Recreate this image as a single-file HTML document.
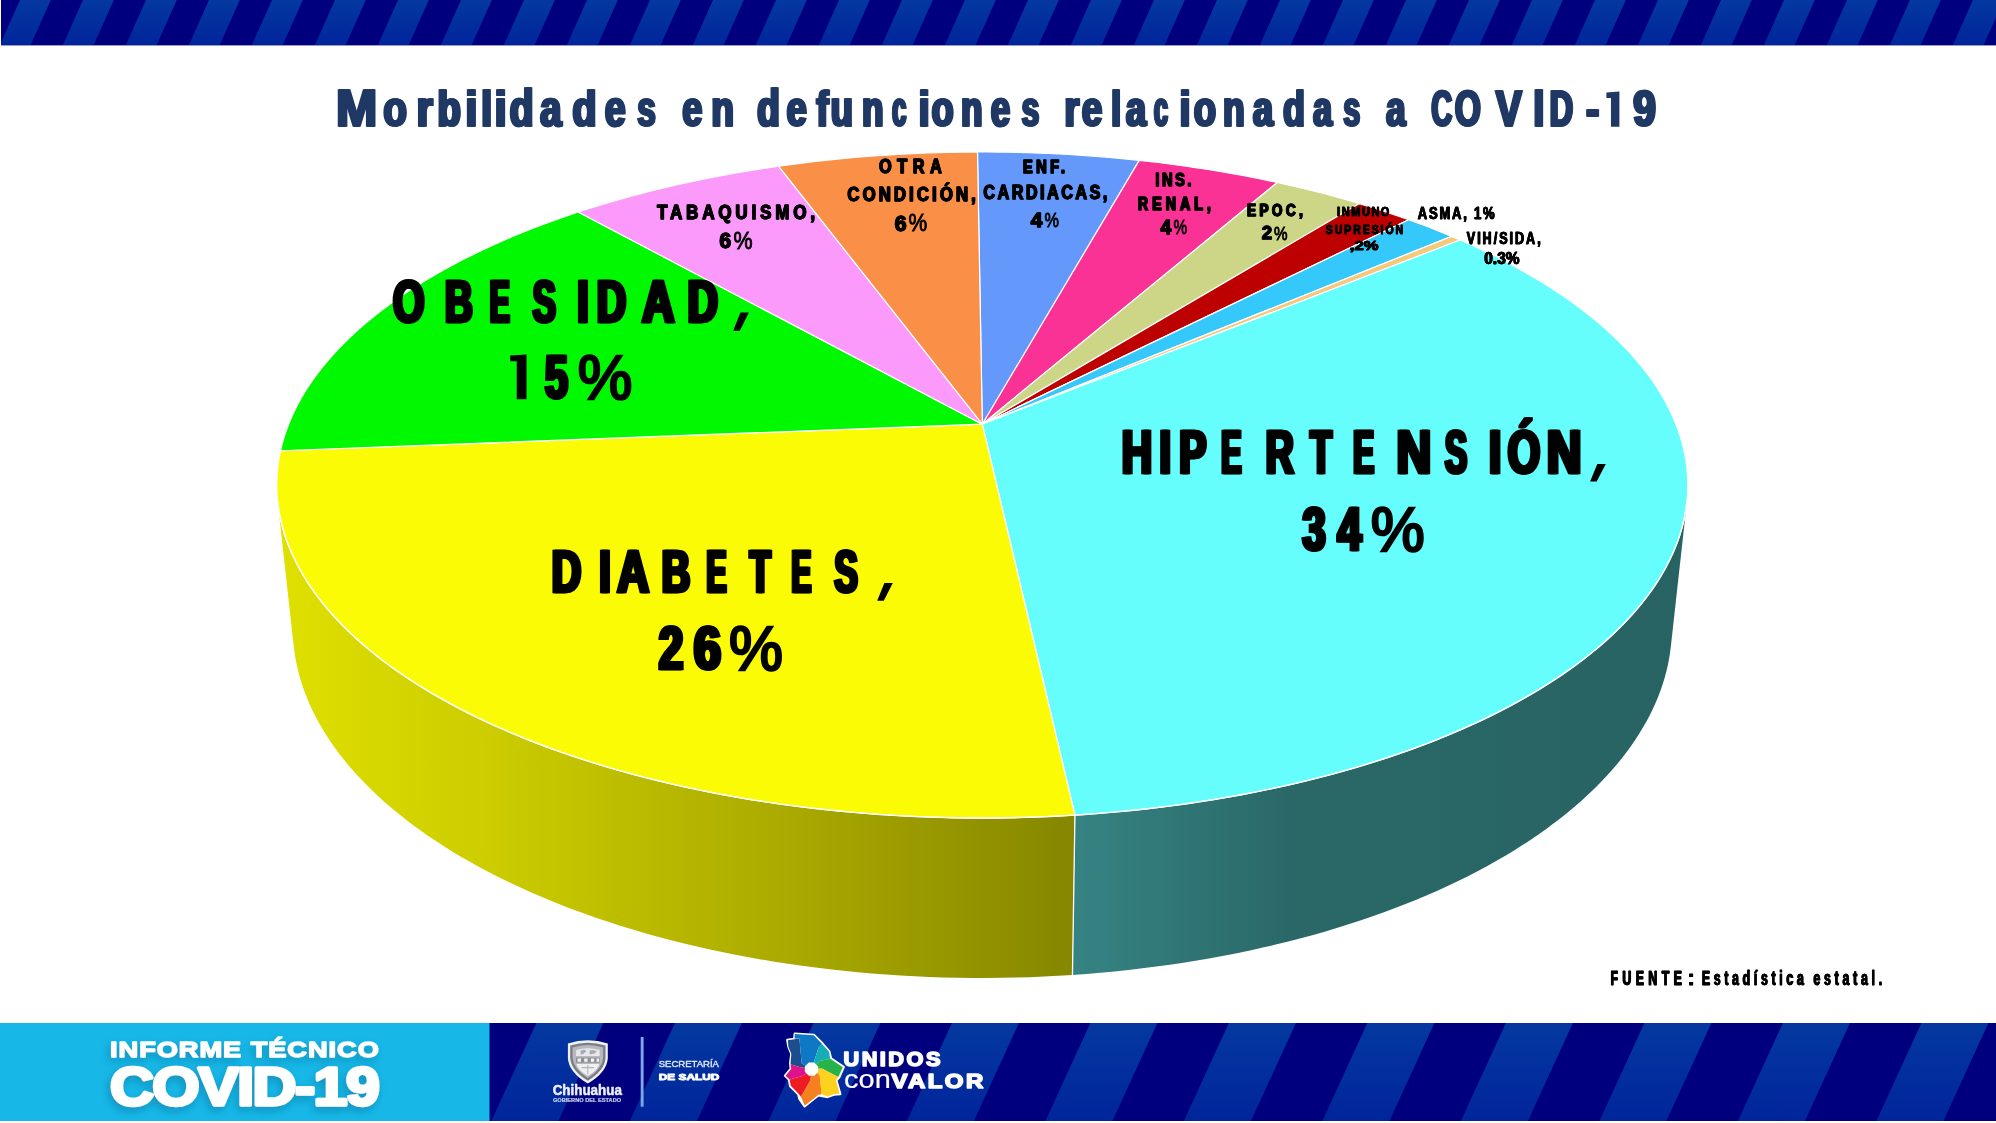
<!DOCTYPE html>
<html><head><meta charset="utf-8"><title>Morbilidades en defunciones relacionadas a COVID-19</title>
<style>
html,body{margin:0;padding:0;background:#fff;}
body{width:1996px;height:1123px;overflow:hidden;}
svg{display:block;font-family:"Liberation Sans",sans-serif;}
</style></head><body>
<svg width="1996" height="1123" viewBox="0 0 1996 1123">
<defs><filter id="sh" x="-10%" y="-20%" width="120%" height="150%"><feDropShadow dx="-2" dy="4" stdDeviation="4" flood-color="#0a6f9a" flood-opacity="0.55"/></filter></defs>
<rect width="1996" height="1123" fill="#fff"/>
<!-- bands -->
<rect x="1" y="0" width="1995" height="45.4" fill="#00007f"/>
<clipPath id="ct"><rect x="1" y="0" width="1995" height="45.4"/></clipPath>
<path clip-path="url(#ct)" d="M-43 0 L-12.2 0 L-32.3 45 L-63.1 45Z M20 0 L50.8 0 L30.7 45 L-0.1 45Z M83 0 L113.8 0 L93.7 45 L62.9 45Z M146 0 L176.8 0 L156.7 45 L125.9 45Z M209 0 L239.8 0 L219.7 45 L188.9 45Z M272 0 L302.8 0 L282.7 45 L251.9 45Z M335 0 L365.8 0 L345.7 45 L314.9 45Z M398 0 L428.8 0 L408.7 45 L377.9 45Z M461 0 L491.8 0 L471.7 45 L440.9 45Z M524 0 L554.8 0 L534.7 45 L503.9 45Z M587 0 L617.8 0 L597.7 45 L566.9 45Z M650 0 L680.8 0 L660.7 45 L629.9 45Z M713 0 L743.8 0 L723.7 45 L692.9 45Z M776 0 L806.8 0 L786.7 45 L755.9 45Z M839 0 L869.8 0 L849.7 45 L818.9 45Z M902 0 L932.8 0 L912.7 45 L881.9 45Z M965 0 L995.8 0 L975.7 45 L944.9 45Z M1028 0 L1058.8 0 L1038.7 45 L1007.9 45Z M1091 0 L1121.8 0 L1101.7 45 L1070.9 45Z M1154 0 L1184.8 0 L1164.7 45 L1133.9 45Z M1217 0 L1247.8 0 L1227.7 45 L1196.9 45Z M1280 0 L1310.8 0 L1290.7 45 L1259.9 45Z M1343 0 L1373.8 0 L1353.7 45 L1322.9 45Z M1406 0 L1436.8 0 L1416.7 45 L1385.9 45Z M1469 0 L1499.8 0 L1479.7 45 L1448.9 45Z M1532 0 L1562.8 0 L1542.7 45 L1511.9 45Z M1595 0 L1625.8 0 L1605.7 45 L1574.9 45Z M1658 0 L1688.8 0 L1668.7 45 L1637.9 45Z M1721 0 L1751.8 0 L1731.7 45 L1700.9 45Z M1784 0 L1814.8 0 L1794.7 45 L1763.9 45Z M1847 0 L1877.8 0 L1857.7 45 L1826.9 45Z M1910 0 L1940.8 0 L1920.7 45 L1889.9 45Z M1973 0 L2003.8 0 L1983.7 45 L1952.9 45Z" fill="url(#gb)"/>
<rect x="0" y="1023" width="1996" height="98" fill="#00007f"/>
<clipPath id="cf"><rect x="489.5" y="1023" width="1506.5" height="98"/></clipPath>
<path clip-path="url(#cf)" d="M397.9 1023 L464.9 1023 L419.9 1121 L352.9 1121Z M536.4 1023 L603.4 1023 L558.4 1121 L491.4 1121Z M674.9 1023 L741.9 1023 L696.9 1121 L629.9 1121Z M813.4 1023 L880.4 1023 L835.4 1121 L768.4 1121Z M951.9 1023 L1018.9 1023 L973.9 1121 L906.9 1121Z M1090.4 1023 L1157.4 1023 L1112.4 1121 L1045.4 1121Z M1228.9 1023 L1295.9 1023 L1250.9 1121 L1183.9 1121Z M1367.4 1023 L1434.4 1023 L1389.4 1121 L1322.4 1121Z M1505.9 1023 L1572.9 1023 L1527.9 1121 L1460.9 1121Z M1644.4 1023 L1711.4 1023 L1666.4 1121 L1599.4 1121Z M1782.9 1023 L1849.9 1023 L1804.9 1121 L1737.9 1121Z M1921.4 1023 L1988.4 1023 L1943.4 1121 L1876.4 1121Z" fill="url(#gb)"/>
<rect x="0" y="1023" width="489.5" height="98" fill="#17b8e8"/>
<!-- pie -->
<defs><linearGradient id="gy" gradientUnits="userSpaceOnUse" x1="285" y1="0" x2="1075" y2="0"><stop offset="0" stop-color="#dfdf00"/><stop offset="0.25" stop-color="#cdcd00"/><stop offset="0.6" stop-color="#adad00"/><stop offset="1" stop-color="#868600"/></linearGradient><linearGradient id="gc" gradientUnits="userSpaceOnUse" x1="1075" y1="0" x2="1690" y2="0"><stop offset="0" stop-color="#368383"/><stop offset="0.35" stop-color="#2a6868"/><stop offset="1" stop-color="#286363"/></linearGradient><linearGradient id="gb" x1="0" y1="0" x2="0" y2="1"><stop offset="0" stop-color="#0438a0"/><stop offset="1" stop-color="#00259b"/></linearGradient></defs>
<path d="M1686.83 502.43 L1686.07 508.33 L1685.07 514.25 L1683.85 520.17 L1682.4 526.11 L1680.72 532.05 L1678.81 537.99 L1676.66 543.93 L1674.28 549.88 L1671.66 555.82 L1668.8 561.75 L1665.71 567.68 L1662.37 573.6 L1658.79 579.51 L1654.97 585.4 L1650.9 591.28 L1646.6 597.14 L1642.04 602.97 L1637.25 608.78 L1632.2 614.57 L1626.91 620.33 L1621.38 626.05 L1615.6 631.75 L1609.58 637.4 L1603.31 643.02 L1596.79 648.59 L1590.04 654.12 L1583.04 659.61 L1575.79 665.04 L1568.31 670.42 L1560.59 675.75 L1552.63 681.01 L1544.43 686.22 L1536 691.36 L1527.33 696.44 L1518.43 701.45 L1509.3 706.39 L1499.95 711.25 L1490.37 716.04 L1480.57 720.74 L1470.55 725.37 L1460.32 729.91 L1449.88 734.36 L1439.22 738.72 L1428.36 742.99 L1417.3 747.17 L1406.04 751.24 L1394.59 755.22 L1382.94 759.09 L1371.12 762.86 L1359.11 766.52 L1346.93 770.07 L1334.57 773.51 L1322.05 776.84 L1309.37 780.05 L1296.54 783.14 L1283.55 786.11 L1270.42 788.96 L1257.15 791.69 L1243.75 794.29 L1230.23 796.76 L1216.58 799.1 L1202.82 801.31 L1188.95 803.39 L1174.98 805.34 L1160.92 807.15 L1146.76 808.82 L1132.53 810.36 L1118.22 811.76 L1103.85 813.02 L1089.41 814.14 L1074.93 815.12 L1072.47 974.95 L1086.58 973.93 L1100.63 972.76 L1114.63 971.45 L1128.56 969.98 L1142.42 968.37 L1156.2 966.62 L1169.9 964.73 L1183.5 962.69 L1197.01 960.52 L1210.42 958.2 L1223.71 955.75 L1236.89 953.17 L1249.95 950.45 L1262.88 947.6 L1275.67 944.62 L1288.33 941.51 L1300.84 938.27 L1313.21 934.91 L1325.41 931.43 L1337.46 927.83 L1349.35 924.11 L1361.06 920.28 L1372.6 916.33 L1383.96 912.27 L1395.14 908.11 L1406.13 903.84 L1416.93 899.46 L1427.53 894.99 L1437.94 890.42 L1448.14 885.76 L1458.14 881 L1467.93 876.15 L1477.51 871.22 L1486.88 866.2 L1496.03 861.1 L1504.96 855.92 L1513.66 850.67 L1522.15 845.34 L1530.4 839.95 L1538.43 834.49 L1546.23 828.96 L1553.8 823.37 L1561.14 817.72 L1568.24 812.02 L1575.11 806.26 L1581.74 800.46 L1588.14 794.6 L1594.29 788.7 L1600.22 782.76 L1605.9 776.78 L1611.34 770.77 L1616.55 764.72 L1621.51 758.64 L1626.24 752.53 L1630.73 746.39 L1634.99 740.23 L1639 734.05 L1642.78 727.85 L1646.32 721.64 L1649.63 715.41 L1652.7 709.17 L1655.54 702.93 L1658.15 696.67 L1660.53 690.42 L1662.67 684.16 L1664.59 677.9 L1666.29 671.65 L1667.75 665.4 L1668.99 659.16 L1670.01 652.92 L1670.81 646.7Z" fill="url(#gc)"/>
<path d="M1074.93 815.12 L1060.27 815.96 L1045.58 816.66 L1030.86 817.21 L1016.11 817.62 L1001.34 817.88 L986.57 817.99 L971.79 817.96 L957.02 817.78 L942.26 817.46 L927.52 816.99 L912.81 816.38 L898.13 815.62 L883.5 814.72 L868.91 813.67 L854.39 812.48 L839.92 811.15 L825.53 809.67 L811.22 808.06 L796.99 806.31 L782.86 804.41 L768.82 802.39 L754.89 800.22 L741.08 797.93 L727.38 795.5 L713.81 792.94 L700.37 790.25 L687.06 787.44 L673.9 784.5 L660.89 781.43 L648.04 778.25 L635.35 774.95 L622.82 771.53 L610.47 767.99 L598.29 764.35 L586.29 760.59 L574.48 756.72 L562.86 752.75 L551.43 748.68 L540.21 744.51 L529.19 740.24 L518.37 735.87 L507.77 731.42 L497.38 726.87 L487.21 722.23 L477.26 717.51 L467.53 712.71 L458.03 707.83 L448.77 702.88 L439.73 697.85 L430.93 692.74 L422.36 687.58 L414.03 682.34 L405.95 677.05 L398.1 671.69 L390.5 666.28 L383.15 660.81 L376.03 655.3 L369.17 649.73 L362.55 644.12 L356.19 638.46 L350.07 632.77 L344.2 627.04 L338.58 621.27 L333.21 615.47 L328.08 609.64 L323.21 603.78 L318.59 597.9 L314.21 592 L310.09 586.08 L306.21 580.14 L302.57 574.18 L299.18 568.22 L296.04 562.24 L293.14 556.26 L290.48 550.27 L288.07 544.27 L285.89 538.28 L283.95 532.29 L282.25 526.3 L280.78 520.32 L279.54 514.35 L278.54 508.38 L277.77 502.43 L293.79 646.7 L294.59 652.97 L295.62 659.26 L296.88 665.55 L298.37 671.85 L300.08 678.16 L302.03 684.47 L304.2 690.78 L306.61 697.09 L309.26 703.39 L312.14 709.69 L315.26 715.97 L318.62 722.25 L322.21 728.51 L326.05 734.76 L330.12 740.99 L334.44 747.2 L339 753.38 L343.8 759.54 L348.85 765.66 L354.14 771.76 L359.66 777.82 L365.44 783.84 L371.45 789.82 L377.7 795.76 L384.2 801.65 L390.94 807.5 L397.91 813.29 L405.13 819.02 L412.58 824.71 L420.27 830.32 L428.19 835.88 L436.34 841.37 L444.73 846.79 L453.34 852.14 L462.18 857.42 L471.25 862.61 L480.54 867.73 L490.05 872.76 L499.78 877.71 L509.71 882.57 L519.87 887.34 L530.22 892.01 L540.79 896.58 L551.55 901.05 L562.51 905.43 L573.66 909.69 L585 913.85 L596.52 917.9 L608.23 921.83 L620.11 925.65 L632.16 929.35 L644.37 932.93 L656.75 936.39 L669.28 939.72 L681.96 942.92 L694.79 946 L707.75 948.95 L720.85 951.76 L734.07 954.44 L747.42 956.98 L760.88 959.38 L774.45 961.64 L788.12 963.76 L801.88 965.74 L815.74 967.57 L829.68 969.26 L843.69 970.8 L857.77 972.2 L871.91 973.44 L886.11 974.54 L900.36 975.48 L914.65 976.28 L928.97 976.92 L943.32 977.41 L957.69 977.75 L972.07 977.93 L986.45 977.96 L1000.84 977.84 L1015.21 977.57 L1029.57 977.14 L1043.9 976.57 L1058.21 975.84 L1072.47 974.95Z" fill="url(#gy)"/>
<path d="M1074.93 815.12 L1072.47 974.95" stroke="#fff" stroke-width="1.3" fill="none"/>
<path d="M982.3 424.2 L977.49 152.01 L987.67 152.01 L997.84 152.08 L1008.02 152.22 L1018.18 152.43 L1028.35 152.71 L1038.5 153.06 L1048.65 153.48 L1058.78 153.96 L1068.9 154.52 L1079.01 155.14 L1089.1 155.84 L1099.18 156.6 L1109.23 157.44 L1119.27 158.34 L1129.28 159.31 L1139.27 160.35Z" fill="#6598fb" stroke="#fff" stroke-width="1.2" stroke-linejoin="round"/>
<path d="M982.3 424.2 L1139.27 160.35 L1148.69 161.4 L1158.09 162.5 L1167.45 163.67 L1176.8 164.91 L1186.11 166.2 L1195.39 167.55 L1204.64 168.97 L1213.86 170.45 L1223.04 171.99 L1232.18 173.59 L1241.29 175.25 L1250.36 176.97 L1259.38 178.76 L1268.37 180.6 L1277.31 182.51Z" fill="#fa3296" stroke="#fff" stroke-width="1.2" stroke-linejoin="round"/>
<path d="M982.3 424.2 L1277.31 182.51 L1286.66 184.58 L1295.95 186.72 L1305.2 188.93 L1314.38 191.2 L1323.51 193.54 L1332.58 195.94 L1341.58 198.42 L1350.53 200.96 L1359.4 203.56Z" fill="#cdd587" stroke="#fff" stroke-width="1.2" stroke-linejoin="round"/>
<path d="M982.3 424.2 L1359.4 203.56 L1367.78 206.1 L1376.1 208.7 L1384.35 211.36 L1392.53 214.08 L1400.65 216.86 L1408.69 219.7Z" fill="#bd0000" stroke="#fff" stroke-width="1.2" stroke-linejoin="round"/>
<path d="M982.3 424.2 L1408.69 219.7 L1416 222.36 L1423.25 225.06 L1430.44 227.81 L1437.56 230.61 L1444.61 233.46 L1451.6 236.36Z" fill="#35c8fa" stroke="#fff" stroke-width="1.2" stroke-linejoin="round"/>
<path d="M982.3 424.2 L1451.6 236.36 L1455.85 238.16 L1460.08 239.98Z" fill="#f5c87a" stroke="#fff" stroke-width="1.2" stroke-linejoin="round"/>
<path d="M982.3 424.2 L1460.08 239.98 L1467.97 243.47 L1475.77 247.01 L1483.47 250.63 L1491.06 254.3 L1498.55 258.04 L1505.94 261.84 L1513.22 265.71 L1520.39 269.63 L1527.44 273.62 L1534.38 277.67 L1541.2 281.79 L1547.9 285.96 L1554.48 290.19 L1560.93 294.48 L1567.25 298.84 L1573.45 303.25 L1579.51 307.72 L1585.43 312.24 L1591.22 316.82 L1596.86 321.46 L1602.36 326.16 L1607.72 330.91 L1612.93 335.71 L1617.98 340.57 L1622.89 345.47 L1627.63 350.43 L1632.22 355.45 L1636.64 360.51 L1640.9 365.62 L1645 370.77 L1648.92 375.98 L1652.67 381.23 L1656.25 386.53 L1659.65 391.87 L1662.86 397.25 L1665.9 402.67 L1668.75 408.14 L1671.41 413.64 L1673.88 419.18 L1676.16 424.76 L1678.24 430.38 L1680.13 436.02 L1681.81 441.71 L1683.29 447.42 L1684.57 453.16 L1685.63 458.93 L1686.49 464.72 L1687.14 470.54 L1687.56 476.39 L1687.78 482.25 L1687.77 488.14 L1687.54 494.04 L1687.09 499.96 L1686.41 505.9 L1685.5 511.84 L1684.37 517.8 L1683 523.77 L1681.4 529.74 L1679.57 535.71 L1677.5 541.69 L1675.19 547.67 L1672.65 553.65 L1669.86 559.62 L1666.83 565.59 L1663.56 571.55 L1660.04 577.49 L1656.28 583.42 L1652.27 589.34 L1648.02 595.24 L1643.52 601.12 L1638.77 606.97 L1633.77 612.8 L1628.53 618.6 L1623.04 624.37 L1617.29 630.11 L1611.3 635.81 L1605.07 641.47 L1598.58 647.09 L1591.85 652.66 L1584.87 658.19 L1577.65 663.67 L1570.18 669.09 L1562.48 674.47 L1554.52 679.78 L1546.33 685.03 L1537.9 690.22 L1529.24 695.34 L1520.34 700.39 L1511.2 705.38 L1501.84 710.28 L1492.25 715.11 L1482.44 719.86 L1472.4 724.53 L1462.14 729.11 L1451.67 733.61 L1440.99 738.01 L1430.1 742.32 L1419.01 746.53 L1407.71 750.65 L1396.22 754.66 L1384.53 758.57 L1372.66 762.38 L1360.6 766.08 L1348.37 769.66 L1335.96 773.14 L1323.39 776.49 L1310.65 779.73 L1297.75 782.86 L1284.7 785.86 L1271.51 788.73 L1258.17 791.48 L1244.7 794.11 L1231.11 796.6 L1217.39 798.97 L1203.55 801.2 L1189.6 803.3 L1175.56 805.26 L1161.41 807.09 L1147.18 808.78 L1132.87 810.33 L1118.48 811.74 L1104.02 813 L1089.5 814.13 L1074.93 815.12Z" fill="#66fdfd" stroke="#fff" stroke-width="1.2" stroke-linejoin="round"/>
<path d="M982.3 424.2 L1074.93 815.12 L1060.3 815.96 L1045.64 816.65 L1030.95 817.21 L1016.23 817.61 L1001.49 817.87 L986.75 817.99 L972 817.96 L957.26 817.79 L942.53 817.47 L927.82 817 L913.13 816.39 L898.48 815.64 L883.88 814.74 L869.32 813.7 L854.82 812.52 L840.39 811.19 L826.02 809.73 L811.74 808.12 L797.53 806.38 L783.42 804.49 L769.41 802.48 L755.51 800.32 L741.71 798.04 L728.04 795.62 L714.49 793.07 L701.07 790.4 L687.78 787.59 L674.64 784.67 L661.65 781.62 L648.81 778.45 L636.14 775.16 L623.62 771.75 L611.28 768.23 L599.12 764.6 L587.13 760.86 L575.33 757.01 L563.72 753.05 L552.3 749 L541.08 744.84 L530.07 740.59 L519.26 736.24 L508.66 731.8 L498.27 727.26 L488.1 722.65 L478.15 717.94 L468.42 713.16 L458.92 708.3 L449.65 703.36 L440.61 698.34 L431.8 693.26 L423.23 688.11 L414.9 682.89 L406.8 677.62 L398.95 672.28 L391.33 666.88 L383.96 661.43 L376.84 655.93 L369.96 650.38 L363.33 644.79 L356.94 639.15 L350.81 633.47 L344.92 627.75 L339.28 622 L333.88 616.22 L328.74 610.41 L323.84 604.56 L319.2 598.7 L314.8 592.81 L310.64 586.9 L306.74 580.98 L303.08 575.04 L299.66 569.08 L296.49 563.12 L293.56 557.15 L290.87 551.17 L288.42 545.19 L286.21 539.21 L284.24 533.23 L282.5 527.26 L281 521.28 L279.73 515.32 L278.69 509.37 L277.88 503.42 L277.3 497.49 L276.94 491.58 L276.8 485.68 L276.89 479.8 L277.19 473.94 L277.71 468.11 L278.44 462.29 L279.39 456.51 L280.54 450.75Z" fill="#fbfb05" stroke="#fff" stroke-width="1.2" stroke-linejoin="round"/>
<path d="M982.3 424.2 L280.54 450.75 L281.89 445.08 L283.43 439.44 L285.18 433.83 L287.12 428.26 L289.25 422.72 L291.57 417.21 L294.08 411.74 L296.78 406.31 L299.66 400.92 L302.72 395.56 L305.96 390.25 L309.38 384.98 L312.96 379.75 L316.72 374.57 L320.65 369.43 L324.74 364.34 L329 359.3 L333.41 354.3 L337.98 349.36 L342.71 344.46 L347.59 339.61 L352.62 334.82 L357.8 330.08 L363.12 325.39 L368.59 320.75 L374.19 316.17 L379.94 311.65 L385.82 307.17 L391.83 302.76 L397.97 298.4 L404.23 294.1 L410.63 289.86 L417.14 285.68 L423.78 281.55 L430.53 277.49 L437.4 273.48 L444.38 269.54 L451.48 265.65 L458.68 261.83 L465.99 258.07 L473.4 254.37 L480.91 250.73 L488.52 247.16 L496.23 243.65 L504.04 240.2 L511.93 236.81 L519.92 233.49 L528 230.23 L536.16 227.04 L544.4 223.91 L552.73 220.85 L561.14 217.85 L569.62 214.91 L578.18 212.05Z" fill="#00f800" stroke="#fff" stroke-width="1.2" stroke-linejoin="round"/>
<path d="M982.3 424.2 L578.18 212.05 L586.69 209.28 L595.27 206.58 L603.91 203.95 L612.62 201.38 L621.39 198.87 L630.23 196.43 L639.13 194.05 L648.08 191.74 L657.09 189.49 L666.16 187.31 L675.28 185.19 L684.45 183.13 L693.67 181.15 L702.93 179.22 L712.24 177.36 L721.6 175.57 L731 173.84 L740.44 172.18 L749.92 170.58 L759.44 169.05 L768.99 167.59 L778.57 166.19Z" fill="#fb9afb" stroke="#fff" stroke-width="1.2" stroke-linejoin="round"/>
<path d="M982.3 424.2 L778.57 166.19 L788.31 164.84 L798.09 163.55 L807.89 162.34 L817.72 161.19 L827.57 160.11 L837.45 159.1 L847.36 158.15 L857.28 157.27 L867.23 156.46 L877.19 155.72 L887.18 155.04 L897.17 154.43 L907.18 153.89 L917.2 153.42 L927.23 153.02 L937.28 152.68 L947.32 152.41 L957.38 152.21 L967.43 152.08 L977.49 152.01Z" fill="#fa8f48" stroke="#fff" stroke-width="1.2" stroke-linejoin="round"/>
<path d="M1686.83 502.43 L1686.06 508.36 L1685.06 514.3 L1683.84 520.25 L1682.38 526.21 L1680.68 532.18 L1678.76 538.15 L1676.59 544.12 L1674.19 550.09 L1671.55 556.05 L1668.67 562.02 L1665.55 567.97 L1662.19 573.91 L1658.58 579.85 L1654.72 585.77 L1650.63 591.67 L1646.28 597.55 L1641.69 603.41 L1636.85 609.25 L1631.77 615.06 L1626.43 620.84 L1620.85 626.58 L1615.03 632.3 L1608.95 637.97 L1602.63 643.61 L1596.06 649.21 L1589.25 654.76 L1582.19 660.26 L1574.88 665.71 L1567.34 671.11 L1559.55 676.45 L1551.52 681.73 L1543.25 686.95 L1534.75 692.11 L1526.01 697.2 L1517.03 702.22 L1507.83 707.17 L1498.4 712.04 L1488.74 716.83 L1478.86 721.55 L1468.76 726.18 L1458.44 730.72 L1447.91 735.18 L1437.17 739.54 L1426.23 743.81 L1415.08 747.98 L1403.73 752.06 L1392.18 756.03 L1380.45 759.9 L1368.53 763.66 L1356.43 767.32 L1344.16 770.86 L1331.71 774.29 L1319.1 777.6 L1306.32 780.8 L1293.39 783.88 L1280.31 786.83 L1267.09 789.66 L1253.73 792.37 L1240.24 794.94 L1226.62 797.39 L1212.88 799.71 L1199.03 801.9 L1185.07 803.95 L1171.01 805.86 L1156.86 807.64 L1142.62 809.29 L1128.3 810.79 L1113.91 812.15 L1099.45 813.37 L1084.94 814.46 L1070.37 815.39 L1055.76 816.19 L1041.11 816.84 L1026.44 817.35 L1011.74 817.71 L997.02 817.93 L982.3 818 L967.58 817.93 L952.86 817.71 L938.16 817.35 L923.49 816.84 L908.84 816.19 L894.23 815.39 L879.66 814.46 L865.15 813.37 L850.69 812.15 L836.3 810.79 L821.98 809.29 L807.74 807.64 L793.59 805.86 L779.53 803.95 L765.57 801.9 L751.72 799.71 L737.98 797.39 L724.36 794.94 L710.87 792.37 L697.51 789.66 L684.29 786.83 L671.21 783.88 L658.28 780.8 L645.5 777.6 L632.89 774.29 L620.44 770.86 L608.17 767.32 L596.07 763.66 L584.15 759.9 L572.42 756.03 L560.87 752.06 L549.52 747.98 L538.37 743.81 L527.43 739.54 L516.69 735.18 L506.16 730.72 L495.84 726.18 L485.74 721.55 L475.86 716.83 L466.2 712.04 L456.77 707.17 L447.57 702.22 L438.59 697.2 L429.85 692.11 L421.35 686.95 L413.08 681.73 L405.05 676.45 L397.26 671.11 L389.72 665.71 L382.41 660.26 L375.35 654.76 L368.54 649.21 L361.97 643.61 L355.65 637.97 L349.57 632.3 L343.75 626.58 L338.17 620.84 L332.83 615.06 L327.75 609.25 L322.91 603.41 L318.32 597.55 L313.97 591.67 L309.88 585.77 L306.02 579.85 L302.41 573.91 L299.05 567.97 L295.93 562.02 L293.05 556.05 L290.41 550.09 L288.01 544.12 L285.84 538.15 L283.92 532.18 L282.22 526.21 L280.76 520.25 L279.54 514.3 L278.54 508.36 L277.77 502.43" fill="none" stroke="#fff" stroke-width="1.4"/>
<!-- labels -->
<g opacity="0.999">
<g id="g1" fill="#1f3864" font-weight="bold" stroke="#1f3864" stroke-width="1.6"><text transform="translate(336.18 125.8) scale(0.968 1)" font-size="50.87">M</text><text transform="translate(383.4 125.8) scale(0.756 1)" font-size="50.87">o</text><text transform="translate(416.75 125.8) scale(0.805 1)" font-size="50.87">r</text><text transform="translate(437.49 125.8) scale(0.749 1)" font-size="50.87">b</text><text transform="translate(465.36 125.8) scale(0.851 1)" font-size="50.87">i</text><text transform="translate(481.15 125.8) scale(0.781 1)" font-size="50.87">l</text><text transform="translate(494.66 125.8) scale(0.851 1)" font-size="50.87">i</text><text transform="translate(509.71 125.8) scale(0.771 1)" font-size="50.87">d</text><text transform="translate(540.08 125.8) scale(0.755 1)" font-size="50.87">a</text><text transform="translate(572.3 125.8) scale(0.778 1)" font-size="50.87">d</text><text transform="translate(604.93 125.8) scale(0.730 1)" font-size="50.87">e</text><text transform="translate(637.36 125.8) scale(0.646 1)" font-size="50.87">s</text><text transform="translate(682.47 125.8) scale(0.703 1)" font-size="50.87">e</text><text transform="translate(711.45 125.8) scale(0.726 1)" font-size="50.87">n</text><text transform="translate(757.27 125.8) scale(0.723 1)" font-size="50.87">d</text><text transform="translate(786.77 125.8) scale(0.699 1)" font-size="50.87">e</text><text transform="translate(816.45 125.8) scale(0.720 1)" font-size="50.87">f</text><text transform="translate(830.71 125.8) scale(0.718 1)" font-size="50.87">u</text><text transform="translate(862.04 125.8) scale(0.688 1)" font-size="50.87">n</text><text transform="translate(892.11 125.8) scale(0.500 1)" font-size="50.87">c</text><text transform="translate(918.55 125.8) scale(0.781 1)" font-size="50.87">i</text><text transform="translate(931.66 125.8) scale(0.707 1)" font-size="50.87">o</text><text transform="translate(961.04 125.8) scale(0.688 1)" font-size="50.87">n</text><text transform="translate(990.89 125.8) scale(0.680 1)" font-size="50.87">e</text><text transform="translate(1021.68 125.8) scale(0.623 1)" font-size="50.87">s</text><text transform="translate(1064.38 125.8) scale(0.753 1)" font-size="50.87">r</text><text transform="translate(1081.95 125.8) scale(0.718 1)" font-size="50.87">e</text><text transform="translate(1111.04 125.8) scale(0.711 1)" font-size="50.87">l</text><text transform="translate(1126.01 125.8) scale(0.707 1)" font-size="50.87">a</text><text transform="translate(1153.91 125.8) scale(0.496 1)" font-size="50.87">c</text><text transform="translate(1179.75 125.8) scale(0.746 1)" font-size="50.87">i</text><text transform="translate(1193.96 125.8) scale(0.711 1)" font-size="50.87">o</text><text transform="translate(1223.03 125.8) scale(0.692 1)" font-size="50.87">n</text><text transform="translate(1253.01 125.8) scale(0.707 1)" font-size="50.87">a</text><text transform="translate(1283.2 125.8) scale(0.698 1)" font-size="50.87">d</text><text transform="translate(1313.24 125.8) scale(0.661 1)" font-size="50.87">a</text><text transform="translate(1343.41 125.8) scale(0.592 1)" font-size="50.87">s</text><text transform="translate(1386.13 125.8) scale(0.686 1)" font-size="50.87">a</text><text transform="translate(1431.47 125.8) scale(0.565 1)" font-size="50.87">C</text><text transform="translate(1454.86 125.8) scale(0.655 1)" font-size="50.87">O</text><text transform="translate(1495.95 125.8) scale(0.764 1)" font-size="50.87">V</text><text transform="translate(1533.39 125.8) scale(0.773 1)" font-size="50.87">I</text><text transform="translate(1549.53 125.8) scale(0.640 1)" font-size="50.87">D</text><text transform="translate(1586.18 125.8) scale(0.772 1)" font-size="50.87">-</text><text transform="translate(1633.23 125.8) scale(0.796 1)" font-size="50.87">9</text></g><use href="#g1" x="-0.9"/><use href="#g1" x="0.9"/>
<g id="g2" fill="#000" font-weight="bold" stroke="#000" stroke-width="2.4"><text transform="translate(393.05 321.5) scale(0.675 1)" font-size="59.88">O</text><text transform="translate(445 321.5) scale(0.642 1)" font-size="59.88">B</text><text transform="translate(489.7 321.5) scale(0.497 1)" font-size="59.88">E</text><text transform="translate(532.8 321.5) scale(0.577 1)" font-size="59.88">S</text><text transform="translate(577.42 321.5) scale(0.671 1)" font-size="59.88">I</text><text transform="translate(596.69 321.5) scale(0.682 1)" font-size="59.88">D</text><text transform="translate(642.08 321.5) scale(0.745 1)" font-size="59.88">A</text><text transform="translate(687.63 321.5) scale(0.700 1)" font-size="59.88">D</text><text transform="translate(544.95 398.1) scale(0.677 1)" font-size="60.76">5</text><text transform="translate(1121.72 472.8) scale(0.696 1)" font-size="60.47">H</text><text transform="translate(1159.61 472.8) scale(0.666 1)" font-size="60.47">I</text><text transform="translate(1179.4 472.8) scale(0.666 1)" font-size="60.47">P</text><text transform="translate(1221.27 472.8) scale(0.501 1)" font-size="60.47">E</text><text transform="translate(1265.78 472.8) scale(0.640 1)" font-size="60.47">R</text><text transform="translate(1310.2 472.8) scale(0.584 1)" font-size="60.47">T</text><text transform="translate(1353.35 472.8) scale(0.509 1)" font-size="60.47">E</text><text transform="translate(1396.44 472.8) scale(0.796 1)" font-size="60.47">N</text><text transform="translate(1445 472.8) scale(0.546 1)" font-size="60.47">S</text><text transform="translate(1489.08 472.8) scale(0.711 1)" font-size="60.47">I</text><text transform="translate(1507.82 472.8) scale(0.689 1)" font-size="60.47">Ó</text><text transform="translate(1546.85 472.8) scale(0.791 1)" font-size="60.47">N</text><text transform="translate(1302.67 549.8) scale(0.678 1)" font-size="60.76">3</text><text transform="translate(1337.5 549.8) scale(0.710 1)" font-size="60.76">4</text><text transform="translate(551.79 591.5) scale(0.682 1)" font-size="59.88">D</text><text transform="translate(599.27 591.5) scale(0.689 1)" font-size="59.88">I</text><text transform="translate(617.29 591.5) scale(0.735 1)" font-size="59.88">A</text><text transform="translate(661.87 591.5) scale(0.653 1)" font-size="59.88">B</text><text transform="translate(706.5 591.5) scale(0.500 1)" font-size="59.88">E</text><text transform="translate(749.9 591.5) scale(0.566 1)" font-size="59.88">T</text><text transform="translate(791.51 591.5) scale(0.494 1)" font-size="59.88">E</text><text transform="translate(834.5 591.5) scale(0.580 1)" font-size="59.88">S</text><text transform="translate(658.85 668.7) scale(0.720 1)" font-size="60.76">2</text><text transform="translate(693.88 668.7) scale(0.800 1)" font-size="60.76">6</text></g><use href="#g2" x="-1.3"/><use href="#g2" x="1.3"/>
<g id="g3" fill="#000" font-weight="normal" stroke="#000" stroke-width="2.6"><text transform="translate(577.66 399) scale(0.962 1)" font-size="63.81">%</text><text transform="translate(1370.87 550.9) scale(0.951 1)" font-size="63.81">%</text><text transform="translate(728.97 669.7) scale(0.951 1)" font-size="63.81">%</text></g>
<path d="M740.42 312.5 L748.9 312.5 L739.79 330.8 L733.2 330.8Z" fill="#000"/>
<path d="M1597.32 464 L1605.8 464 L1596.69 481.6 L1590.1 481.6Z" fill="#000"/>
<path d="M884.38 582.9 L892.8 582.9 L883.75 600.8 L877.2 600.8Z" fill="#000"/>
<g id="g4" fill="#000" font-weight="normal" stroke="#000" stroke-width="0.9"><text transform="translate(733.44 248.65) scale(0.906 1)" font-size="23.72">%</text><text transform="translate(908.45 231.15) scale(0.898 1)" font-size="23.42">%</text><text transform="translate(1044.57 227.05) scale(0.775 1)" font-size="20.97">%</text><text transform="translate(1173.48 234.25) scale(0.731 1)" font-size="20.97">%</text><text transform="translate(1274.03 239.65) scale(0.835 1)" font-size="18.23">%</text></g>
<g id="g5" fill="#000" font-weight="bold" stroke="#000" stroke-width="0.8"><text transform="translate(657.13 218.9) scale(0.800 1)" font-size="21.08" letter-spacing="4.91">TABAQUISMO,</text><text transform="translate(879.06 172.6) scale(0.800 1)" font-size="20.06" letter-spacing="7.16">OTRA</text><text transform="translate(847.44 201.1) scale(0.800 1)" font-size="20.79" letter-spacing="3.98">CONDICIÓN,</text><text transform="translate(1022.83 173.1) scale(0.800 1)" font-size="18.46" letter-spacing="4.26">ENF.</text><text transform="translate(983.46 199.3) scale(0.800 1)" font-size="20.06" letter-spacing="3.22">CARDIACAS,</text><text transform="translate(1155.45 185.7) scale(0.800 1)" font-size="18.17" letter-spacing="3.24">INS.</text><text transform="translate(1137.97 209.6) scale(0.800 1)" font-size="17.73" letter-spacing="5.04">RENAL,</text><text transform="translate(1247.02 215.5) scale(0.800 1)" font-size="16.86" letter-spacing="4.34">EPOC,</text><text transform="translate(719.4 248.3) scale(0.927 1)" font-size="22.67">6</text><text transform="translate(894.7 230.8) scale(0.955 1)" font-size="22.38">6</text><text transform="translate(1030.8 226.7) scale(1.031 1)" font-size="20.06">4</text><text transform="translate(1160.69 233.9) scale(0.944 1)" font-size="20.06">4</text><text transform="translate(1261.79 239.3) scale(1.044 1)" font-size="17.44">2</text></g><use href="#g5" x="-0.4"/><use href="#g5" x="0.4"/>
<g id="g6" fill="#000" font-weight="bold" stroke="#000" stroke-width="0.5"><text transform="translate(1337.12 216.25) scale(0.800 1)" font-size="13.66" letter-spacing="1.99">INMUNO</text><text transform="translate(1325.85 233.75) scale(0.800 1)" font-size="13.08" letter-spacing="2.45">SUPRESIÓN</text><text transform="translate(1349.84 249.95) scale(1.266 1)" font-size="13.08" letter-spacing="0">,2%</text><text transform="translate(1417.83 218.95) scale(0.800 1)" font-size="16.28" letter-spacing="2.21">ASMA, 1%</text><text transform="translate(1466.76 244.15) scale(0.800 1)" font-size="15.7" letter-spacing="2.5">VIH/SIDA,</text><text transform="translate(1484.28 264.05) scale(0.950 1)" font-size="16.28" letter-spacing="0">0.3%</text></g><use href="#g6" x="-0.25"/><use href="#g6" x="0.25"/>
<g id="g7" fill="#000" font-weight="bold" stroke="#000" stroke-width="0.5"><text transform="translate(1610.43 984.65) scale(0.640 1)" font-size="19.33" letter-spacing="6.88">FUENTE</text><text transform="translate(1687.5 984.65) scale(1.119 1)" font-size="19.33" letter-spacing="0">:</text><text transform="translate(1701.83 984.65) scale(0.640 1)" font-size="19.33" letter-spacing="5.73">Estadística</text><text transform="translate(1813.38 984.65) scale(0.640 1)" font-size="19.33" letter-spacing="5.84">estatal.</text></g><use href="#g7" x="-0.3"/><use href="#g7" x="0.3"/>
<path d="M510.2 355.4 L526.5 354.6 L526.5 399.3 L516.72 399.3 L516.72 361.31 L510.2 361.31Z" fill="#000"/>
<path d="M1606.4 92.4 L1619.4 91.6 L1619.4 126.7 L1610.95 126.7 L1610.95 97.92 L1606.4 97.92Z" fill="#1f3864"/>
</g>
<!-- footer -->
<g opacity="0.999">
<g filter="url(#sh)">
<text transform="translate(110.02 1056.6) scale(1.200 1)" font-size="22.67" font-weight="bold" fill="#fff" letter-spacing="0.81" stroke="#fff" stroke-width="1.4" stroke-linejoin="round">INFORME TÉCNICO</text>
<text transform="translate(109.92 1104.9) scale(1.130 1)" font-size="53.93" font-weight="bold" fill="#fff" letter-spacing="-1.41" stroke="#fff" stroke-width="3.4" stroke-linejoin="round">COVID-19</text>
</g>
<g transform="translate(567.6 1039)"><path d="M0.3 4.6 Q20.2 -2.2 40.2 4.6 L40.2 19 Q39.6 33 20.2 44.6 Q0.9 33 0.3 19Z" fill="#f2f2f4"/><path d="M2.6 6.6 Q20.2 0.8 37.9 6.6 L37.9 19 Q37.2 31.4 20.2 41.8 Q3.3 31.4 2.6 19Z" fill="#7d7f86"/><path d="M5 8.6 Q20.2 3.6 35.5 8.6 L35.5 19 Q34.8 29.8 20.2 39 Q5.7 29.8 5 19Z" fill="#b9babf"/><path d="M8.5 11 Q20.2 7.4 32 11 L32 17 L8.5 17Z" fill="#e9e9ec"/><path d="M8.5 18.6 H32 V23.6 H8.5Z" fill="#8e9097"/><path d="M10 19.4 h3.4 v3.4 h-3.4z M16.6 19.4 h3.4 v3.4 h-3.4z M23.2 19.4 h3.4 v3.4 h-3.4z M29 19.4 h2.4 v3.4 h-2.4z" fill="#f4f4f6"/><path d="M8.8 25 H31.8 Q30 31.6 20.2 37 Q10.4 31.6 8.8 25Z" fill="#f0f0f3"/><path d="M13 12 q3 -2.4 6 0 q-3 3.6 -6 3.4z M22 11.6 q4 -1.6 7.4 1 q-2.4 3 -7.4 2.6z" fill="#a9abb2"/><path d="M20.2 26 V35.4 M14 28.6 H26.4" stroke="#b4b6bd" stroke-width="1.1" fill="none"/></g>
<text transform="translate(552.69 1095.45) scale(0.970 1)" font-size="13.81" font-weight="bold" fill="#eef1ff" letter-spacing="0" stroke="#eef1ff" stroke-width="0.5" stroke-linejoin="round">Chihuahua</text>
<text transform="translate(552.89 1102.4) scale(1.257 1)" font-size="4.51" font-weight="bold" fill="#c3cbee" letter-spacing="0" stroke="#c3cbee" stroke-width="0.2" stroke-linejoin="round">GOBIERNO DEL ESTADO</text>
<rect x="640.7" y="1037" width="2.9" height="69.7" fill="#7ea9e8"/>
<text transform="translate(658.76 1066.53) scale(1.103 1)" font-size="8.65" font-weight="normal" fill="#e3eaff" letter-spacing="0" stroke="#e3eaff" stroke-width="0.35" stroke-linejoin="round">SECRETARÍA</text>
<text transform="translate(658.79 1079.95) scale(1.293 1)" font-size="9.16" font-weight="bold" fill="#fff" letter-spacing="0" stroke="#fff" stroke-width="0.9" stroke-linejoin="round">DE SALUD</text>
<text transform="translate(843.47 1066.4) scale(1.100 1)" font-size="19.77" font-weight="bold" fill="#fff" letter-spacing="2.26" stroke="#fff" stroke-width="1.6" stroke-linejoin="round">UNIDOS</text>
<text transform="translate(844.08 1087.7) scale(1.145 1)" font-size="25.29" font-weight="normal" fill="#fff" letter-spacing="0" stroke="#fff" stroke-width="0.2" stroke-linejoin="round">con</text>
<text transform="translate(891.38 1087.6) scale(1.180 1)" font-size="20.35" font-weight="bold" fill="#fff" letter-spacing="2.04" stroke="#fff" stroke-width="1.6" stroke-linejoin="round">VALOR</text>
<g transform="translate(770 1025) scale(0.11523)"><path d="M150 130 L210 120 L215 75 L380 85 L455 160 L515 230 L530 290 L640 365 L600 455 L575 480 L590 530 L610 600 L555 605 L500 625 L420 610 L370 650 L300 705 L255 640 L245 600 L175 530 L165 475 L130 440 L180 380 L175 330 L185 250 L160 190Z" fill="#fff" stroke="#fff" stroke-width="20" stroke-linejoin="round"/><path d="M155 132 L255 118 L275 332 L360 383 L255 365 L178 340 L185 250 L160 190Z" fill="#1d4f8f"/><path d="M215 78 L380 88 L452 165 L420 200 L360 383 L275 332 L255 118 L214 120Z" fill="#0f79c6"/><path d="M420 200 L452 165 L512 232 L522 292 L430 312 L360 383Z" fill="#16afb6"/><path d="M430 312 L524 292 L632 367 L592 452 L450 378 L360 383Z" fill="#2ab24a"/><path d="M450 378 L592 452 L572 482 L586 530 L604 596 L552 602 L500 620 L448 602 L430 432 L360 383Z" fill="#fdd31f"/><path d="M430 432 L448 602 L420 606 L370 646 L302 698 L268 622 L350 480 L360 383Z" fill="#f5821f"/><path d="M360 383 L350 480 L268 622 L250 598 L180 528 L170 472 L290 440Z" fill="#ed1c24"/><path d="M178 340 L255 365 L360 383 L290 440 L170 472 L136 440 L184 382Z" fill="#df138b"/><path d="M337 326 L383 326 L418 360 L418 406 L385 440 L337 440 L302 406 L302 360Z" fill="#fff"/></g>
</g>
</svg>
</body></html>
